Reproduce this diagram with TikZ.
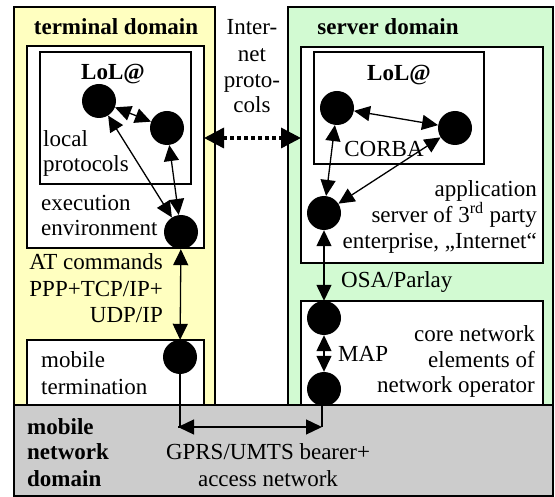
\documentclass[tikz,border=0pt]{standalone}
\usepackage{fontspec}
\setmainfont{Liberation Serif}
\usetikzlibrary{arrows.meta}
\begin{document}
\begin{tikzpicture}[x=1pt,y=-1pt,
  dom/.style={draw=black, line width=1.2pt},
  wbox/.style={draw=black, fill=white, line width=1.2pt},
  dot/.style={circle, fill=black, minimum size=34pt, inner sep=0pt},
  conn/.style={line width=1.3pt, {Triangle[length=16pt,width=15pt]}-{Triangle[length=16pt,width=15pt]}},
  plain/.style={line width=1.3pt},
  lbl/.style={inner sep=0pt, font=\fontsize{23}{27}\selectfont},
  blbl/.style={inner sep=0pt, font=\fontsize{23}{27}\selectfont\bfseries},
]
\useasboundingbox (0,0) rectangle (555,497);
\definecolor{termyellow}{HTML}{FFFFC0}
\definecolor{servgreen}{HTML}{D2FAD2}
\definecolor{netgray}{HTML}{CCCCCC}
% domains
\draw[dom, fill=termyellow] (14,7) rectangle (215,420);
\draw[dom, fill=servgreen] (288,7) rectangle (553,420);
% white boxes
\draw[wbox] (27,46) rectangle (204,248);
\draw[wbox] (40,52) rectangle (191,184);
\draw[wbox] (27,340) rectangle (204,420);
\draw[wbox] (301,47) rectangle (543,263);
\draw[wbox] (314,52) rectangle (484,164);
\draw[wbox] (301,301) rectangle (543,420);
% mobile network domain
\draw[dom, fill=netgray] (14,405) rectangle (553,496);

% labels
\node[blbl, anchor=base] (tdom) at (116,35) {terminal domain};
\node[blbl, anchor=base] (sdom) at (388,35) {server domain};
\node[lbl, anchor=base] (ip1) at (252,35) {Inter-};
\node[lbl, anchor=base] (ip2) at (252,62) {net};
\node[lbl, anchor=base] (ip3) at (252,88) {proto-};
\node[lbl, anchor=base] (ip4) at (252,113) {cols};
\node[blbl, anchor=base] (tlol) at (113,80) {LoL@};
\node[blbl, anchor=base] (slol) at (399,81) {LoL@};
\node[lbl, anchor=base west] (loc1) at (43,147) {local};
\node[lbl, anchor=base west] (loc2) at (43,172) {protocols};
\node[lbl, anchor=base west] (ex1) at (41,211) {execution};
\node[lbl, anchor=base west] (ex2) at (41,236) {environment};
\node[lbl, anchor=base east] (at1) at (163,270) {AT commands};
\node[lbl, anchor=base east] (at2) at (163,297) {PPP+TCP/IP+};
\node[lbl, anchor=base east] (at3) at (163,323) {UDP/IP};
\node[lbl, anchor=base west] (mt1) at (41,368) {mobile};
\node[lbl, anchor=base west] (mt2) at (41,395) {termination};
\node[blbl, anchor=base west] (mn1) at (27,435) {mobile};
\node[blbl, anchor=base west] (mn2) at (27,460) {network};
\node[blbl, anchor=base west] (mn3) at (27,486) {domain};
\node[lbl, anchor=base] (gp1) at (268,460) {GPRS/UMTS bearer+};
\node[lbl, anchor=base] (gp2) at (268,486) {access network};
\node[lbl, anchor=base] (corba) at (384,157) {CORBA};
\node[lbl, anchor=base east] (ap1) at (537,197) {application};
\node[lbl, anchor=base east] (ap2) at (537,223) {server of 3\textsuperscript{rd} party};
\node[lbl, anchor=base east] (ap3) at (537,249) {enterprise, „Internet“};
\node[lbl, anchor=base west] (osa) at (341,288) {OSA/Parlay};
\node[lbl, anchor=base west] (map) at (338,362) {MAP};
\node[lbl, anchor=base east] (cn1) at (535,342) {core network};
\node[lbl, anchor=base east] (cn2) at (535,368) {elements of};
\node[lbl, anchor=base east] (cn3) at (535,393) {network operator};

% dots
\node[dot] (c1) at (99,101) {};
\node[dot] (c2) at (167,128) {};
\node[dot] (c3) at (181,232) {};
\node[dot] (c4) at (180,357) {};
\node[dot] (s1) at (337,108) {};
\node[dot] (s2) at (455,128) {};
\node[dot] (s3) at (324,213) {};
\node[dot] (s4) at (324,318) {};
\node[dot] (s5) at (324,389) {};

% connectors
\draw[conn] (c1) -- (c2);
\draw[conn] (c1) -- (c3);
\draw[conn] (c2) -- (c3);
\draw[conn] (c3) -- (c4);
\draw[conn] (s1) -- (s2);
\draw[conn] (s1) -- (s3);
\draw[conn] (s2) -- (s3);
\draw[conn] (s3) -- (s4);
\draw[conn] (s4) -- (s5);
\coordinate (bl) at (178,427);
\coordinate (br) at (322,427);
\draw[plain] (c4.center) -- (c4.center |- bl) -- (bl);
\draw[plain] (s5.south -| br) -- (br);
\draw[conn] (bl) -- (br);
\coordinate (dl) at (204,138);
\coordinate (dr) at (301,138);
\draw[line width=3.5pt, dash pattern=on 3.5pt off 3.5pt, {Triangle[length=20pt,width=20pt]}-{Triangle[length=20pt,width=20pt]}] (dl) -- (dr);
\end{tikzpicture}
\end{document}
